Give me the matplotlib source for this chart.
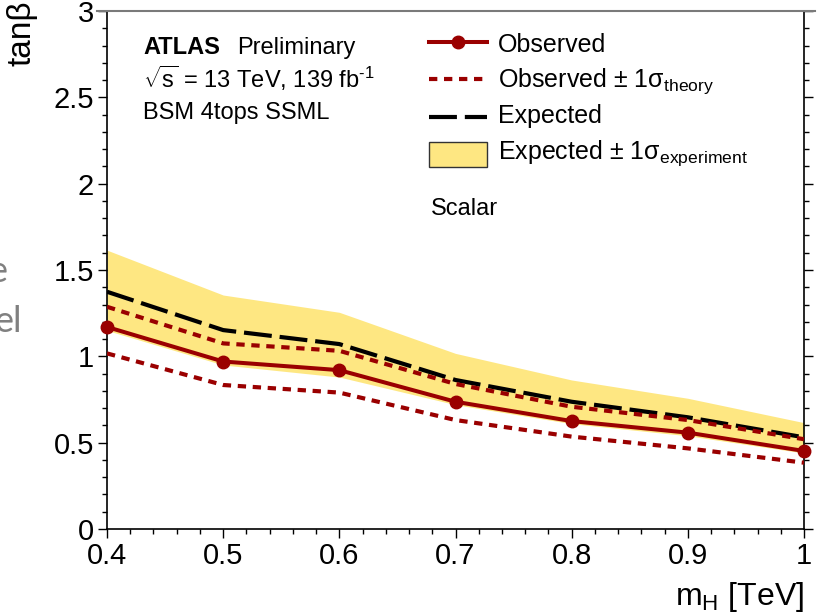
import matplotlib
matplotlib.use("Agg")
import matplotlib.pyplot as plt
from matplotlib.lines import Line2D
from matplotlib.patches import Rectangle
from matplotlib.ticker import MultipleLocator

# ---- data ----
mass = [0.4, 0.5, 0.6, 0.7, 0.8, 0.9, 1.0]
observed = [1.17, 0.97, 0.92, 0.737, 0.625, 0.558, 0.452]
obs_theory_up = [1.287, 1.075, 1.032, 0.84, 0.708, 0.631, 0.52]
obs_theory_dn = [1.017, 0.834, 0.79, 0.631, 0.535, 0.467, 0.384]
expected = [1.374, 1.152, 1.071, 0.863, 0.737, 0.647, 0.531]
exp_band_up = [1.615, 1.355, 1.255, 1.017, 0.863, 0.757, 0.616]
exp_band_dn = [1.15, 0.95, 0.88, 0.72, 0.61, 0.54, 0.44]

x_ticks = [0.4, 0.5, 0.6, 0.7, 0.8, 0.9, 1.0]
x_tick_labels = ["0.4", "0.5", "0.6", "0.7", "0.8", "0.9", "1"]
y_ticks = [0, 0.5, 1, 1.5, 2, 2.5, 3]
y_tick_labels = ["0", "0.5", "1", "1.5", "2", "2.5", "3"]

legend_labels = ["Observed",
                 r"Observed $\pm$ 1σ$_{\mathrm{theory}}$",
                 "Expected",
                 r"Expected $\pm$ 1σ$_{\mathrm{experiment}}$"]

# ---- style ----
plt.rcParams['font.family'] = ['Liberation Sans', 'DejaVu Sans']
plt.rcParams['mathtext.fontset'] = 'custom'
plt.rcParams['mathtext.rm'] = 'Liberation Sans'
plt.rcParams['mathtext.it'] = 'Liberation Sans:italic'
plt.rcParams['mathtext.bf'] = 'Liberation Sans:bold'

RED = '#9a0000'
YELLOW = '#fee782'

W, H = 833, 613
fig = plt.figure(figsize=(W / 100, H / 100), dpi=100)
L, R, T, B = 107, 804, 11, 529
ax = fig.add_axes([L / W, (H - B) / H, (R - L) / W, (B - T) / H])

ax.fill_between(mass, exp_band_dn, exp_band_up, color=YELLOW, lw=0, zorder=1)
ax.plot(mass, expected, color='black', lw=3, ls=(0, (6.7, 1.9)), zorder=3)
ax.plot(mass, obs_theory_up, color=RED, lw=3, ls=(0, (2.0, 1.6)), zorder=4)
ax.plot(mass, obs_theory_dn, color=RED, lw=3, ls=(0, (2.0, 1.6)), zorder=4)
ax.plot(mass, observed, color=RED, lw=2.9, marker='o', ms=9, zorder=5, clip_on=False)

ax.set_xlim(0.4, 1.0)
ax.set_ylim(0, 3)
ax.set_xticks(x_ticks)
ax.set_xticklabels(x_tick_labels)
ax.set_yticks(y_ticks)
ax.set_yticklabels(y_tick_labels)
ax.xaxis.set_minor_locator(MultipleLocator(0.02))
ax.yaxis.set_minor_locator(MultipleLocator(0.1))
ax.tick_params(which='both', direction='out', top=False, right=True,
               labelright=False, width=1.0, labelsize=21, pad=3)
ax.tick_params(which='major', length=6.3)
ax.tick_params(which='minor', length=3.3)
ax.spines['top'].set_visible(False)
for s in ['left', 'bottom', 'right']:
    ax.spines[s].set_linewidth(1.2)

# gray frame line on top
fig.add_artist(Line2D([97 / W, 815 / W], [(H - 11) / H] * 2, color='#7a7a7a', lw=1.5))

def axx(px):
    return (px - L) / (R - L)

def axy(py):
    return (B - py) / (B - T)

# axis titles
ax.text(1.0, axy(605), r"m$_{\mathrm{H}}$ [TeV]", transform=ax.transAxes,
        ha='right', va='baseline', fontsize=23)
ax.text(axx(38), axy(0), "tanβ", transform=ax.transAxes,
        rotation=90, ha='right', va='top', fontsize=24)

# ATLAS label
FS = 17
ax.text(axx(143), axy(54), "ATLAS", transform=ax.transAxes, fontsize=FS,
        fontweight='bold', ha='left', va='baseline')
ax.text(axx(237), axy(54), "Preliminary", transform=ax.transAxes, fontsize=FS,
        ha='left', va='baseline')
ax.text(axx(143), axy(88), r"$\sqrt{\mathrm{s}}$ = 13 TeV, 139 fb$^{\text{-1}}$",
        transform=ax.transAxes, fontsize=FS, ha='left', va='baseline')
ax.text(axx(143), axy(119), "BSM 4tops SSML", transform=ax.transAxes, fontsize=FS,
        ha='left', va='baseline')
ax.text(axx(431), axy(215), "Scalar", transform=ax.transAxes, fontsize=FS,
        ha='left', va='baseline')

# manual legend
hx0, hx1, tx = axx(429), axx(487), axx(498)
rows_c = [axy(42.3), axy(78.5), axy(116.5), axy(154.5)]
rows_b = [axy(51.7), axy(86.7), axy(123.3), axy(158.3)]
ax.add_line(Line2D([hx0, hx1], [rows_c[0]] * 2, color=RED, lw=2.9,
                   transform=ax.transAxes, clip_on=False))
ax.add_line(Line2D([(hx0 + hx1) / 2], [rows_c[0]], color=RED, marker='o', ms=9,
                   transform=ax.transAxes, clip_on=False))
ax.add_line(Line2D([hx0, hx1], [rows_c[1]] * 2, color=RED, lw=3, ls=(0, (2.0, 1.6)),
                   transform=ax.transAxes, clip_on=False))
ax.add_line(Line2D([hx0, hx1], [rows_c[2]] * 2, color='black', lw=3, ls=(0, (6.7, 1.9)),
                   transform=ax.transAxes, clip_on=False))
rh = 25 / (B - T)
ax.add_patch(Rectangle((hx0, rows_c[3] - rh / 2), hx1 - hx0, rh, facecolor=YELLOW,
                       edgecolor='#333333', lw=1.0, transform=ax.transAxes, clip_on=False))
for lab, yb in zip(legend_labels, rows_b):
    ax.text(tx, yb, lab, transform=ax.transAxes, fontsize=18, ha='left', va='baseline')

# stray slide text at the left edge (cut off in the reference too)
fig.text(7 / W, (H - 282) / H, "e", fontsize=26, color='#808080', family='Lato',
         ha='right', va='baseline')
fig.text(22 / W, (H - 332) / H, "el", fontsize=26, color='#808080', family='Lato',
         ha='right', va='baseline')

fig.savefig("out.png", dpi=100)
